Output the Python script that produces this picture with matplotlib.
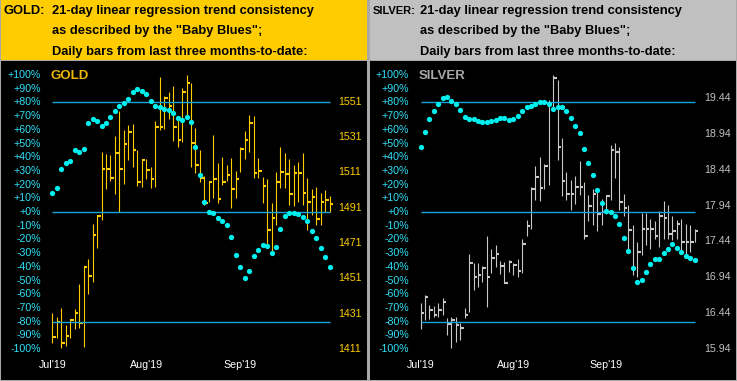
import matplotlib.pyplot as plt
from matplotlib.patches import Rectangle
from matplotlib.transforms import blended_transform_factory

plt.rcParams['font.family'] = ['Liberation Sans', 'DejaVu Sans']

W, H = 737, 381

# ---- data ----
gold_high = [1431.2, 1429.3, 1434.0, 1424.6, 1427.8, 1433.4, 1447.6, 1457.6, 1461.7, 1481.7,
             1486.4, 1522.3, 1521.2, 1520.6, 1531.6, 1545.7, 1535.0, 1537.8, 1538.4, 1523.6,
             1518.4, 1518.6, 1514.2, 1540.1, 1564.8, 1554.2, 1556.3, 1559.9, 1541.9, 1558.6,
             1566.1, 1561.4, 1535.9, 1523.6, 1508.9, 1505.7, 1532.1, 1516.1, 1519.5, 1515.2,
             1518.9, 1511.8, 1525.2, 1534.4, 1543.5, 1542.9, 1518.9, 1508.5, 1507.2, 1493.5,
             1511.0, 1525.5, 1521.8, 1518.4, 1515.2, 1517.0, 1521.8, 1507.6, 1501.4, 1502.9,
             1499.1, 1501.0, 1497.6]
gold_low = [1414.6, 1417.0, 1411.4, 1412.7, 1417.0, 1422.1, 1422.7, 1412.3, 1442.1, 1448.9,
            1468.3, 1484.0, 1501.8, 1506.1, 1498.7, 1488.7, 1504.4, 1518.0, 1513.8, 1503.5,
            1502.9, 1507.0, 1502.3, 1502.9, 1535.0, 1535.4, 1541.2, 1528.9, 1525.5, 1528.4,
            1541.6, 1514.2, 1510.8, 1505.7, 1492.5, 1494.4, 1496.5, 1493.5, 1503.8, 1506.3,
            1491.0, 1496.7, 1511.4, 1518.4, 1522.7, 1507.6, 1507.6, 1493.5, 1469.9, 1465.1,
            1481.2, 1501.9, 1501.9, 1492.5, 1491.9, 1494.4, 1492.5, 1478.3, 1486.8, 1481.2,
            1481.2, 1488.7, 1488.7]
gold_close = [1418.0, 1426.4, 1414.6, 1418.5, 1427.4, 1431.5, 1425.9, 1457.6, 1452.5, 1475.7,
              1486.4, 1513.1, 1512.7, 1508.0, 1522.1, 1512.7, 1527.2, 1534.0, 1523.8, 1505.7,
              1517.8, 1512.5, 1507.4, 1536.9, 1536.9, 1552.9, 1548.8, 1536.9, 1529.5, 1556.7,
              1561.8, 1527.4, 1515.3, 1507.6, 1493.8, 1505.3, 1507.0, 1495.7, 1505.7, 1509.3,
              1501.8, 1507.2, 1524.4, 1529.5, 1539.1, 1510.8, 1511.9, 1503.5, 1478.3, 1485.3,
              1505.7, 1511.4, 1510.3, 1498.9, 1510.6, 1510.8, 1499.1, 1494.0, 1497.2, 1484.6,
              1494.0, 1495.5, 1493.3]
gold_trend = [14.1, 17.8, 31.6, 36.0, 37.5, 45.3, 44.0, 46.2, 65.2, 68.1,
              66.6, 63.0, 65.2, 69.6, 74.0, 77.6, 79.8, 82.7, 87.8, 89.8,
              88.6, 86.4, 81.3, 77.6, 76.9, 75.4, 74.7, 72.5, 68.4, 67.4,
              69.6, 65.9, 47.7, 27.3, 7.5, 0.2, -0.5, -4.1, -6.3, -9.2,
              -18.0, -31.1, -39.9, -47.9, -42.8, -31.9, -27.5, -23.8, -24.6, -29.7,
              -25.3, -12.2, -2.7, -0.5, -0.5, -1.2, -3.4, -6.4, -13.9, -18.8,
              -26.1, -32.6, -39.9]

silver_high = [16.58, 16.69, 16.55, 16.54, 16.58, 16.65, 16.37, 16.39, 16.39, 16.30,
               16.51, 17.27, 17.14, 17.14, 17.10, 17.51, 17.33, 17.39, 17.17, 17.16,
               17.18, 17.14, 17.19, 17.47, 17.74, 18.20, 18.49, 18.62, 18.52, 19.42,
               19.77, 19.70, 18.88, 18.41, 18.30, 18.35, 18.57, 18.27, 18.09, 18.18,
               18.16, 18.04, 18.08, 18.79, 18.82, 18.76, 18.10, 17.95, 17.67, 17.44,
               17.84, 17.84, 17.75, 17.72, 17.87, 18.01, 17.95, 17.80, 17.74, 17.76,
               17.69, 17.67, 17.62]
silver_low = [16.22, 16.34, 16.36, 16.38, 16.39, 16.41, 16.13, 15.95, 16.04, 16.06,
              16.37, 16.46, 16.76, 16.81, 16.88, 16.53, 17.00, 17.09, 16.99, 16.86,
              17.02, 16.97, 16.95, 17.00, 17.51, 17.62, 18.02, 18.00, 18.18, 18.23,
              19.32, 18.58, 18.07, 18.02, 17.88, 17.97, 18.09, 17.48, 17.72, 17.67,
              17.59, 17.67, 17.83, 18.02, 18.32, 17.88, 17.80, 17.34, 16.97, 16.95,
              17.25, 17.39, 17.34, 17.48, 17.37, 17.48, 17.48, 17.46, 17.48, 17.32,
              17.23, 17.30, 17.44]
silver_close = [16.44, 16.66, 16.49, 16.41, 16.49, 16.60, 16.29, 16.35, 16.27, 16.23,
                16.41, 17.14, 16.94, 16.97, 17.07, 16.94, 17.21, 17.27, 17.10, 16.86,
                17.16, 17.11, 17.03, 17.41, 17.65, 18.18, 18.34, 18.19, 18.50, 19.37,
                19.72, 18.76, 18.29, 18.11, 18.11, 18.20, 18.20, 17.52, 17.93, 18.11,
                17.83, 17.85, 18.07, 18.72, 18.69, 17.99, 17.91, 17.60, 17.05, 17.30,
                17.62, 17.62, 17.62, 17.51, 17.80, 17.77, 17.55, 17.58, 17.69, 17.43,
                17.43, 17.43, 17.58]
silver_trend = [47.7, 58.6, 68.1, 74.0, 79.1, 83.5, 84.2, 81.3, 79.1, 74.7,
                69.6, 68.1, 68.1, 66.7, 65.9, 65.9, 66.7, 67.4, 68.9, 68.9,
                67.4, 68.1, 70.3, 74.0, 76.9, 77.6, 79.1, 80.5, 80.5, 79.1,
                75.4, 76.9, 76.9, 74.0, 68.9, 63.0, 57.9, 46.2, 36.0, 27.3,
                16.3, 6.8, 1.0, 0.2, -2.7, -8.5, -18.7, -28.2, -40.6, -50.9,
                -49.4, -43.5, -37.7, -34.1, -34.1, -29.7, -26.8, -23.4, -26.0, -29.2,
                -31.9, -33.4, -35.0]

month_labels = ["Jul'19", "Aug'19", "Sep'19"]
month_pos = [0, 21, 42]
pct_ticks = list(range(100, -101, -10))
band_levels = [80, 0, -80]
gold_prices = [1551, 1531, 1511, 1491, 1471, 1451, 1431, 1411]
silver_prices = [19.44, 18.94, 18.44, 17.94, 17.44, 16.94, 16.44, 15.94]
header_lines = ['21-day linear regression trend consistency',
                'as described by the "Baby Blues";',
                'Daily bars from last three months-to-date:']

LINE = '#12A6DC'
DOT = '#00F0F0'
PCT = '#30E0F8'


def px_rect(x0, y0, x1, y1):
    return [x0 / W, 1 - y1 / H, (x1 - x0) / W, (y1 - y0) / H]


fig = plt.figure(figsize=(W / 100, H / 100), dpi=100, facecolor='#a8a8a8')


def panel(x0, x1, name, head_bg, name_col, bar_col, lab_col,
          high, low, close, trend, prices, fmt, first_x, step, p_ref, y_ref, ppu,
          text_x, pct_right, price_left, name_size):
    top, bot = 61, 380
    # header band
    fig.add_artist(Rectangle((x0 / W, 1 - 60 / H), (x1 - x0) / W, 60 / H,
                             transform=fig.transFigure, facecolor=head_bg, edgecolor='none'))
    fig.text((x0 + 3) / W, 1 - 11 / H, name + ':', fontsize=name_size, fontweight='bold',
             va='center', ha='left')
    for k, line in enumerate(header_lines):
        fig.text(text_x / W, 1 - (11 + 20.3 * k) / H, line, fontsize=9.3,
                 fontweight='bold', va='center', ha='left')

    ax = fig.add_axes(px_rect(x0, top, x1, bot))
    ax.set_facecolor('black')
    ax.set_xticks([])
    ax.set_yticks([])
    for s in ax.spines.values():
        s.set_visible(False)
    ax.set_xlim((x0 - first_x) / step, (x1 - first_x) / step)
    ax.set_ylim(p_ref - (bot - y_ref) / ppu, p_ref + (y_ref - top) / ppu)

    n = len(close)
    xs = list(range(n))
    ax.vlines(xs, low, high, color=bar_col, lw=0.8)
    ax.hlines(close, xs, [x + 0.8 for x in xs], color=bar_col, lw=1.5)

    ax2 = ax.twinx()
    ax2.set_yticks([])
    for s in ax2.spines.values():
        s.set_visible(False)
    ax2.set_ylim(-100 - (bot - 349) / 1.37, 100 + (75 - top) / 1.37)
    ax2.hlines(band_levels, 0, n - 1, color=LINE, lw=1.0)
    ax2.plot(xs, trend, 'o', color=DOT, ms=3.8, mew=0)

    tr = blended_transform_factory(ax2.transAxes, ax2.transData)
    for p in pct_ticks:
        ax2.text((pct_right - x0) / (x1 - x0), p, f'{p:+d}%', transform=tr,
                 ha='right', va='center', color=PCT, fontsize=7.7)
    tr = blended_transform_factory(ax.transAxes, ax.transData)
    for v in prices:
        ax.text((price_left - x0) / (x1 - x0), v, fmt.format(v), transform=tr,
                ha='left', va='center', color=lab_col, fontsize=7.7)
    tr = blended_transform_factory(ax.transData, ax.transAxes)
    for pos, lab in zip(month_pos, month_labels):
        ax.text(pos, (bot - 365) / (bot - top), lab, transform=tr,
                ha='center', va='center', color='white', fontsize=7.7)
    fig.text((first_x - 2) / W, 1 - 76 / H, name, color=name_col, fontsize=9.5,
             fontweight='bold', ha='left', va='center')


panel(1, 367, 'GOLD', '#FFCC00', '#F0B800', '#FFCC00', '#FFCC00',
      gold_high, gold_low, gold_close, gold_trend, gold_prices, '{:d}',
      52.3, 4.474, 1551, 101.7, 1.766, 52, 41, 338, 9.3)
panel(370, 736, 'SILVER', '#C0C0C0', '#A8A8A8', '#C8C8C8', '#C0C0C0',
      silver_high, silver_low, silver_close, silver_trend, silver_prices, '{:.2f}',
      420.5, 4.42, 19.44, 98.3, 71.6, 420, 409, 704, 8.0)

fig.savefig('out.png', dpi=100, facecolor=fig.get_facecolor())
